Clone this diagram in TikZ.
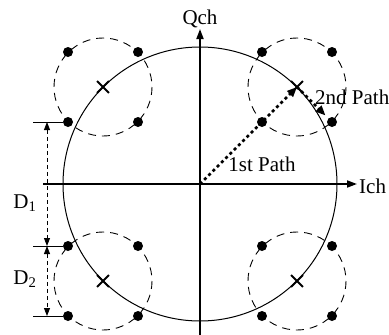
\documentclass[tikz,border=0pt]{standalone}
\usepackage{fontspec}
\setmainfont{Liberation Serif}
\usetikzlibrary{arrows.meta,shapes.misc}
\begin{document}
\begin{tikzpicture}[x=1pt,y=-1pt,
 axis/.style={line width=1.8pt},
 bigc/.style={line width=1pt},
 dcirc/.style={line width=0.9pt, dash pattern=on 8pt off 6pt},
 dot/.style={circle,fill=black,inner sep=0pt,minimum size=10pt},
 xmark/.style={draw,cross out,line width=1.8pt,minimum size=10pt,inner sep=0pt},
 lbl/.style={font=\fontsize{21}{24}\selectfont, inner sep=0pt},
 pathline/.style={line width=2.6pt, dash pattern=on 3pt off 3pt, -{Triangle[length=10pt,width=8pt]}},
 dimline/.style={line width=0.9pt, dash pattern=on 4pt off 3pt, {Triangle[length=8pt,width=6pt]}-{Triangle[length=8pt,width=6pt]}},
 tick/.style={line width=0.9pt},
]
\useasboundingbox (0,0) rectangle (389,335);
% axes
\coordinate (O) at (200,184);
\coordinate (qtop) at (200,29);
\coordinate (qbot) at (200,335);
\coordinate (ileft) at (43,184);
\coordinate (iright) at (357,184);
\draw[axis,-{Triangle[length=10pt,width=7pt]}] (qbot) -- (qtop);
\draw[axis,-{Triangle[length=10pt,width=7pt]}] (ileft) -- (iright);
\node[lbl,anchor=south] (qch) at (200,28) {Qch};
\node[lbl,anchor=west] (ich) at (359,186) {Ich};
% big circle
\draw[bigc] (O) circle (137);
% quadrant circles
\coordinate (cTL) at (103,87);
\coordinate (cTR) at (297,87);
\coordinate (cBL) at (103,281);
\coordinate (cBR) at (297,281);
\foreach \c in {cTL,cTR,cBL,cBR}{
  \draw[dcirc] (\c) circle (49);
  \node[xmark] at (\c) {};
}
% dots
\node[dot] (TLa) at (68,52) {};
\node[dot] (TLb) at (138,52) {};
\node[dot] (TLc) at (68,122) {};
\node[dot] (TLd) at (138,122) {};
\node[dot] (TRa) at (262,52) {};
\node[dot] (TRb) at (332,52) {};
\node[dot] (TRc) at (262,122) {};
\node[dot] (TRd) at (332,122) {};
\node[dot] (BLa) at (68,246) {};
\node[dot] (BLb) at (138,246) {};
\node[dot] (BLc) at (68,316) {};
\node[dot] (BLd) at (138,316) {};
\node[dot] (BRa) at (262,246) {};
\node[dot] (BRb) at (332,246) {};
\node[dot] (BRc) at (262,316) {};
\node[dot] (BRd) at (332,316) {};
% paths
\draw[pathline] (O) -- (cTR);
\draw[pathline, shorten >=4pt] (cTR) -- (TRd);
\node[lbl,anchor=west] (p2) at (315,97) {2nd Path};
\node[lbl] (p1) at (262,164) {1st Path};
% dimensions
\coordinate (t1) at (33,122);
\coordinate (t2) at (33,246);
\coordinate (t3) at (33,316);
\draw[tick] (t1) -- (TLc);
\draw[tick] (t2) -- (BLa);
\draw[tick] (t3) -- (BLc);
\coordinate (d1) at (47,122);
\coordinate (d2) at (47,246);
\coordinate (d3) at (47,316);
\draw[dimline] (d1) -- (d2);
\draw[dimline] (d2) -- (d3);
\node[lbl] (D1) at (25,203) {D\textsubscript{1}};
\node[lbl] (D2) at (25,279) {D\textsubscript{2}};
\end{tikzpicture}
\end{document}
